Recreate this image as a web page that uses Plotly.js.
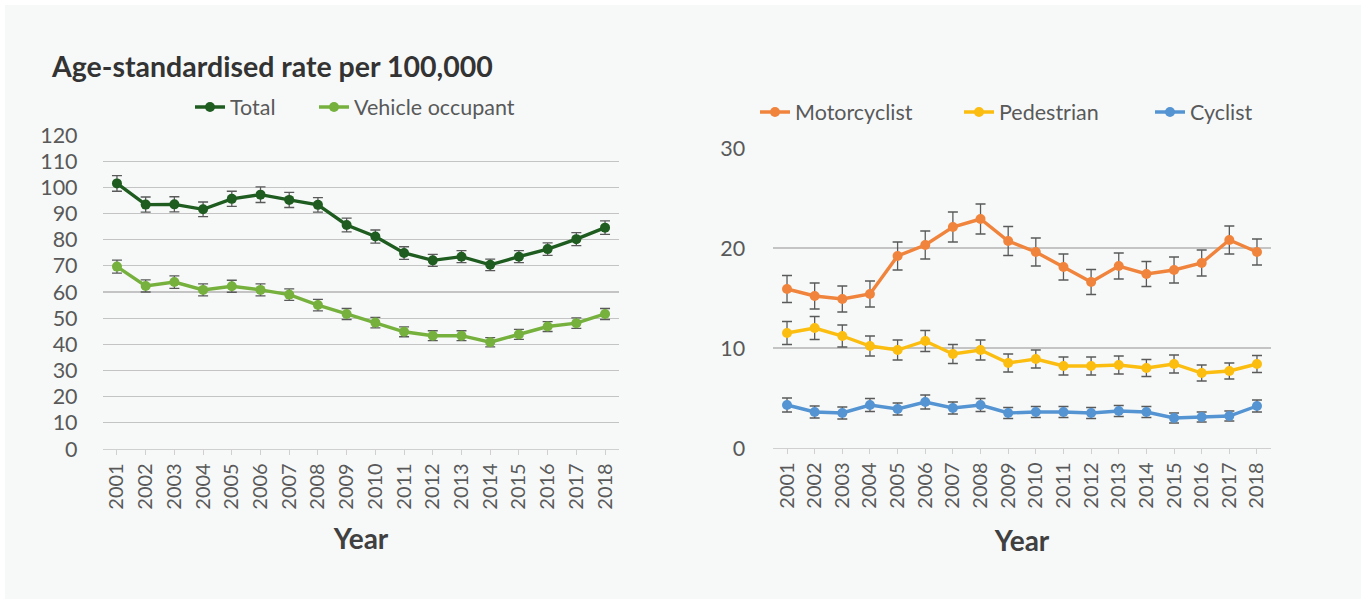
<!DOCTYPE html>
<html>
<head>
<meta charset="utf-8">
<script src="https://cdn.plot.ly/plotly-3.0.1.min.js"></script>
<style>
html,body{margin:0;padding:0;background:#ffffff;width:1371px;height:612px;overflow:hidden;}
#chart{position:absolute;left:5px;top:5px;width:1356px;height:594px;}
</style>
</head>
<body>
<div id="chart"></div>
<script>
const years = ["2001","2002","2003","2004","2005","2006","2007","2008","2009","2010","2011","2012","2013","2014","2015","2016","2017","2018"];

const total = [101.5,93.4,93.5,91.6,95.6,97.2,95.2,93.3,85.6,81.2,74.9,72.1,73.5,70.4,73.5,76.4,80.2,84.6];
const totalErr = [3.0,2.9,2.9,2.8,2.9,3.0,2.9,2.8,2.6,2.5,2.4,2.3,2.3,2.2,2.3,2.4,2.5,2.6];

const vehicle = [69.7,62.3,63.8,60.8,62.2,60.8,59.0,55.0,51.6,48.3,44.8,43.3,43.3,40.8,43.8,46.8,48.1,51.6];
const vehicleErr = [2.5,2.3,2.4,2.3,2.3,2.3,2.2,2.2,2.1,2.0,1.9,1.9,1.9,1.8,1.9,1.9,2.0,2.1];

const motorcyclist = [15.9,15.2,14.9,15.4,19.2,20.3,22.1,22.9,20.7,19.6,18.1,16.6,18.2,17.4,17.8,18.5,20.8,19.6];
const motorcyclistErr = [1.35,1.3,1.3,1.3,1.4,1.4,1.5,1.5,1.45,1.4,1.3,1.25,1.3,1.25,1.3,1.3,1.4,1.3];

const pedestrian = [11.5,12.0,11.2,10.2,9.8,10.7,9.4,9.8,8.5,8.9,8.2,8.2,8.3,8.0,8.4,7.5,7.7,8.4];
const pedestrianErr = [1.15,1.15,1.1,1.0,1.0,1.05,0.95,1.0,0.9,0.9,0.9,0.9,0.9,0.85,0.9,0.8,0.8,0.85];

const cyclist = [4.3,3.6,3.5,4.3,3.9,4.6,4.0,4.3,3.5,3.6,3.6,3.5,3.7,3.6,3.0,3.1,3.2,4.2];
const cyclistErr = [0.7,0.6,0.6,0.65,0.6,0.7,0.6,0.65,0.55,0.55,0.55,0.55,0.55,0.55,0.5,0.5,0.5,0.6];

const FONT = "Lato, 'Open Sans', sans-serif";
const errColor = "#5a5a5a";

function tr(name, y, err, color, xa, ya, leg) {
  return {
    type: "scatter", mode: "lines+markers", name: name,
    x: years, y: y, xaxis: xa, yaxis: ya, legend: leg,
    line: {color: color, width: 3.4},
    marker: {color: color, size: 10},
    error_y: {type: "data", array: err, visible: true, color: errColor, thickness: 1.3, width: 5}
  };
}

const data = [
  tr("Total", total, totalErr, "#1f5c20", "x", "y", "legend"),
  tr("Vehicle occupant", vehicle, vehicleErr, "#76b13d", "x", "y", "legend2"),
  tr("Motorcyclist", motorcyclist, motorcyclistErr, "#f0843c", "x2", "y2", "legend3"),
  tr("Pedestrian", pedestrian, pedestrianErr, "#fbbd0f", "x2", "y2", "legend4"),
  tr("Cyclist", cyclist, cyclistErr, "#5594d2", "x2", "y2", "legend5")
];

const W = 1356, H = 594;
function fx(px){ return (px - 5) / W; }
function fy(py){ return 1 - (py - 5) / H; }

const xCommon = {
  type: "category", tickangle: -90, range: [-0.5, 17.5],
  tickfont: {family: FONT, size: 20, color: "#595959"},
  showgrid: false, zeroline: false,
  showline: true, linecolor: "#d0d0d0", linewidth: 1.3,
  ticks: "outside", ticklen: 5, tickcolor: "#d0d0d0",
  fixedrange: true
};
const yCommon = {
  tickfont: {family: FONT, size: 21.5, color: "#595959"},
  showgrid: true, gridcolor: "#c4c4c4", gridwidth: 1.3,
  zeroline: false, showline: false, ticks: "",
  fixedrange: true
};

function leg(px, py) {
  return {
    orientation: "h", x: fx(px), xanchor: "left", y: fy(py), yanchor: "middle",
    bgcolor: "rgba(0,0,0,0)", font: {family: FONT, size: 21.5, color: "#595959"},
    itemwidth: 30
  };
}

const layout = {
  width: W, height: H,
  paper_bgcolor: "#f7f9f9", plot_bgcolor: "rgba(0,0,0,0)",
  margin: {l: 0, r: 0, t: 0, b: 0},
  font: {family: FONT, color: "#595959"},
  title: {
    text: "<b>Age-standardised rate per 100,000</b>",
    font: {family: FONT, size: 28.5, color: "#333333"},
    x: fx(52), xanchor: "left", y: fy(67), yanchor: "middle", xref: "container", yref: "container"
  },
  xaxis: Object.assign({}, xCommon, {
    domain: [fx(102.6), fx(619.4)], anchor: "y",
    title: {text: "<b>Year</b>", font: {family: FONT, size: 28, color: "#404040"}, standoff: 20}
  }),
  yaxis: Object.assign({}, yCommon, {
    domain: [fy(449), fy(135)], anchor: "x",
    range: [0, 120], dtick: 10, tick0: 0, ticklabelstandoff: 24
  }),
  xaxis2: Object.assign({}, xCommon, {
    domain: [fx(773.2), fx(1270.8)], anchor: "y2",
    title: {text: "<b>Year</b>", font: {family: FONT, size: 28, color: "#404040"}, standoff: 23}
  }),
  yaxis2: Object.assign({}, yCommon, {
    domain: [fy(448), fy(148)], anchor: "x2",
    range: [0, 30], dtick: 10, tick0: 0, ticklabelstandoff: 27
  }),
  legend: leg(190, 107),
  legend2: leg(314, 107),
  legend3: leg(755, 112),
  legend4: leg(959, 112),
  legend5: leg(1150, 112),
  showlegend: true
};

Plotly.newPlot("chart", data, layout, {displayModeBar: false, staticPlot: true});
</script>
</body>
</html>
